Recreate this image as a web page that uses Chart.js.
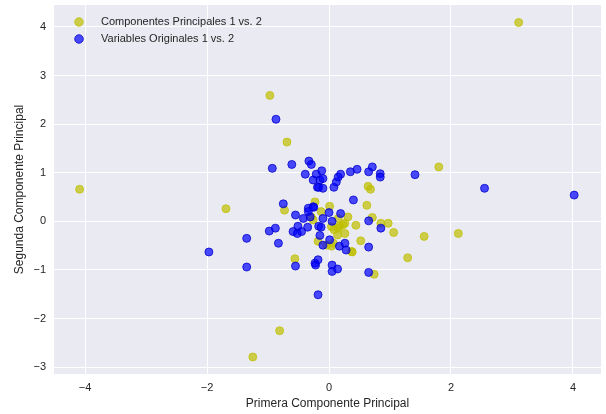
<!DOCTYPE html>
<html>
<head>
<meta charset="utf-8">
<script src="https://cdn.jsdelivr.net/npm/chart.js@4.4.0/dist/chart.umd.min.js"></script>
<style>
  body { margin: 0; background: #fff; }
  #wrap { width: 606px; height: 414px; }
</style>
</head>
<body>
<div id="wrap"><canvas id="pcaChart"></canvas></div>
<script>
// datos
const seriesNames = ['Componentes Principales 1 vs. 2', 'Variables Originales 1 vs. 2'];

const pcX = [3.11, -4.09, -0.97, -0.69, -1.69, 1.80, 1.56, 2.12, 1.29, 0.62, 0.71, 0.85, 0.97, 1.06, 0.74,
  0.52, 0.38, 0.31, 0.23, 0.26, 0.14, 0.04, -0.18, -0.23, 0.01, 0.17, 0.08, 0.64, 0.68, -0.73, -0.56,
  -0.26, -0.81, -1.25, 0.15, -0.13, -0.29, 0.44, 0.15, 0.07, 0.37, -0.04, 0.26, 0.04];
const pcY = [4.09, 0.66, 2.59, 1.63, 0.26, 1.12, -0.31, -0.25, -0.75, 0.33, 0.08, -0.04, -0.04, -0.23, -1.09,
  -0.40, -0.63, 0.09, -0.07, -0.25, -0.28, -0.51, -0.41, 0.40, 0.31, -0.10, -0.17, 0.72, 0.66, 0.23, -0.77,
  0.03, -2.25, -2.79, 0.06, 0.20, 0.09, -0.08, -0.14, -0.45, -0.62, -0.49, -0.04, -0.11];

const origX = [4.02, 2.55, 1.41, -0.87, -0.93, -0.61, -0.33, -0.29, -0.39, -0.26, -0.19, -0.75, -0.34, -0.21,
  -0.12, -0.15, -0.10, -0.17, -0.10, 0.08, 0.12, 0.15, 0.19, 0.35, 0.46, 0.65, 0.71, 0.84, 0.84, 0.40,
  -0.26, -0.55, -0.98, -0.88, -1.35, -0.83, -1.97, -1.35, -0.55, -0.59, -0.52, -0.51, -0.42, -0.34, -0.35,
  -0.31, -0.23, -0.18, -0.18, -0.25, 0.00, 0.19, 0.05, -0.10, -0.17, -0.13, -0.45, -0.15, 0.01, -0.10,
  0.17, 0.26, 0.28, 0.65, 0.85, 0.65, -0.22, 0.05, 0.05, 0.14, 0.65];
const origY = [0.54, 0.68, 0.96, 2.10, 1.09, 1.17, 1.24, 1.17, 0.97, 0.85, 0.70, 0.36, 0.27, 0.97,
  1.04, 0.85, 0.88, 0.70, 0.68, 0.70, 0.81, 0.91, 0.97, 1.02, 1.07, 1.02, 1.12, 0.98, 0.91, 0.44,
  0.30, 0.13, -0.20, -0.14, -0.35, -0.45, -0.63, -0.94, -0.92, -0.21, -0.25, -0.10, 0.06, 0.20, -0.12,
  0.09, -0.86, -0.79, -1.51, 0.29, 0.18, 0.16, 0.00, 0.06, -0.10, -0.12, -0.21, -0.29, -0.38, -0.49,
  -0.51, -0.45, -0.59, 0.01, -0.14, -0.53, -0.90, -0.90, -1.03, -0.98, -1.05];

const xTicks = [-4, -2, 0, 2, 4];
const yTicks = [-3, -2, -1, 0, 1, 2, 3, 4];

const toPoints = (xs, ys) => xs.map((x, i) => ({ x: x, y: ys[i] }));
const fmt = v => (v < 0 ? '\u2212' + Math.abs(v) : String(v));

const tickColor = '#262626';
const fontFam = '"Liberation Sans", Arial, sans-serif';

// fondo estilo seaborn
const bgPlugin = {
  id: 'bg',
  beforeDraw(chart) {
    const a = chart.chartArea;
    const ctx = chart.ctx;
    ctx.save();
    ctx.fillStyle = '#eaeaf2';
    ctx.fillRect(a.left, a.top, a.right - a.left, a.bottom - a.top);
    ctx.restore();
  }
};

// leyenda dentro del area, arriba a la izquierda
const legendPlugin = {
  id: 'innerLegend',
  afterDraw(chart) {
    const a = chart.chartArea;
    const ctx = chart.ctx;
    ctx.save();
    ctx.font = '11px ' + fontFam;
    ctx.textBaseline = 'middle';
    chart.data.datasets.forEach((ds, i) => {
      const y = a.top + 17 + i * 17;
      ctx.beginPath();
      ctx.arc(a.left + 25, y, 4.3, 0, Math.PI * 2);
      ctx.fillStyle = ds.backgroundColor;
      ctx.fill();
      ctx.lineWidth = 1;
      ctx.strokeStyle = ds.borderColor;
      ctx.stroke();
      ctx.fillStyle = tickColor;
      ctx.fillText(ds.label, a.left + 47, y);
    });
    ctx.restore();
  }
};

const noPad = scale => {
  scale.paddingTop = 0;
  scale.paddingBottom = 0;
  scale.paddingLeft = 0;
  scale.paddingRight = 0;
};

new Chart(document.getElementById('pcaChart'), {
  type: 'scatter',
  data: {
    datasets: [{
      label: seriesNames[0],
      data: toPoints(pcX, pcY),
      backgroundColor: 'rgba(191,191,0,0.7)',
      borderColor: 'rgba(191,191,0,0.7)',
      borderWidth: 1,
      pointRadius: 4,
      order: 1
    }, {
      label: seriesNames[1],
      data: toPoints(origX, origY),
      backgroundColor: 'rgba(0,0,255,0.7)',
      borderColor: 'rgba(0,0,200,0.75)',
      borderWidth: 1,
      pointRadius: 4,
      order: 0
    }]
  },
  options: {
    responsive: true,
    maintainAspectRatio: false,
    animation: false,
    layout: { padding: { top: 4, right: 1, left: 0, bottom: 0 } },
    plugins: {
      tooltip: { enabled: false },
      legend: { display: false }
    },
    scales: {
      x: {
        type: 'linear',
        min: -4.51,
        max: 4.46,
        afterBuildTicks: axis => { axis.ticks = xTicks.map(v => ({ value: v })); },
        afterFit: scale => { scale.height = 40; noPad(scale); },
        grid: { color: '#ffffff', lineWidth: 1, drawTicks: false },
        border: { display: false },
        ticks: {
          padding: 7,
          color: tickColor,
          font: { family: fontFam, size: 11 },
          callback: v => fmt(v)
        },
        title: {
          display: true,
          text: 'Primera Componente Principal',
          color: tickColor,
          font: { family: fontFam, size: 12 },
          padding: { top: 0, bottom: 3 }
        }
      },
      y: {
        type: 'linear',
        min: -3.14,
        max: 4.45,
        afterBuildTicks: axis => { axis.ticks = yTicks.map(v => ({ value: v })); },
        afterFit: scale => { scale.width = 54; noPad(scale); },
        grid: { color: '#ffffff', lineWidth: 1, drawTicks: false },
        border: { display: false },
        ticks: {
          padding: 8,
          color: tickColor,
          font: { family: fontFam, size: 11 },
          callback: v => fmt(v)
        },
        title: {
          display: true,
          text: 'Segunda Componente Principal',
          color: tickColor,
          font: { family: fontFam, size: 12 },
          padding: { top: 12, bottom: 0 }
        }
      }
    }
  },
  plugins: [bgPlugin, legendPlugin]
});
</script>
</body>
</html>
